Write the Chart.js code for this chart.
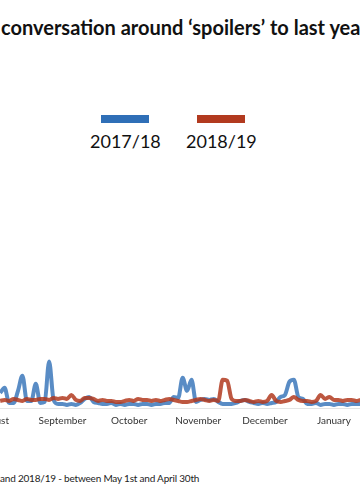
<!DOCTYPE html>
<html>
<head>
<meta charset="utf-8">
<script src="https://cdn.jsdelivr.net/npm/chart.js@4"></script>
<style>
  html, body { margin: 0; padding: 0; background: #fff; }
  body { width: 360px; height: 500px; overflow: hidden; position: relative; font-family: Lato, sans-serif; color: #111; }
  #title { position: absolute; left: 1px; top: 15px; font-size: 20px; font-weight: 700; white-space: nowrap; }
  #legend { position: absolute; left: 90px; top: 115px; display: flex; gap: 26px; }
  .item { width: 70px; text-align: center; font-size: 18px; }
  .swatch { width: 48px; height: 8px; margin: 0 auto 7px auto; }
  #wrap { position: absolute; left: -40px; top: 160px; width: 440px; height: 274px; }
  #note { position: absolute; left: 0; top: 472px; font-size: 10px; letter-spacing: -0.2px; white-space: nowrap; color: #222; }
</style>
</head>
<body>
<div id="title">conversation around ‘spoilers’ to last year</div>
<div id="legend"></div>
<div id="wrap"><canvas id="spoilers_chart"></canvas></div>
<div id="note">and 2018/19 - between May 1st and April 30th</div>
<script>
// days counted from August 1st
const days = [3, 5, 7, 9, 11, 13, 15, 17, 19, 21, 23, 25, 27, 29, 31, 33, 35, 37, 39, 41,
  43, 45, 47, 49, 51, 53, 55, 57, 59, 61, 63, 65, 67, 69, 71, 73, 75, 77, 79, 81,
  83, 85, 87, 89, 91, 93, 95, 97, 99, 101, 103, 105, 107, 109, 111, 113, 115, 117, 119, 121,
  123, 125, 127, 129, 131, 133, 135, 137, 139, 141, 143, 145, 147, 149, 151, 153, 155, 157, 159, 161,
  163, 165];

const season1718 = [15, 20, 5, 5, 17, 32, 7, 7, 24, 5, 6, 46, 8, 4, 4, 3, 4, 3, 5, 9,
  11, 6, 5, 4, 4, 5, 3, 4, 3, 4, 4, 3, 4, 4, 3, 4, 4, 5, 5, 11,
  10, 30, 17, 28, 6, 8, 9, 8, 9, 6, 4, 4, 4, 5, 7, 8, 6, 5, 4, 5,
  4, 5, 6, 11, 13, 26, 28, 11, 9, 4, 4, 5, 3, 4, 4, 3, 4, 4, 3, 4,
  4, 4];

const season1819 = [7, 8, 7, 9, 8, 7, 9, 8, 8, 9, 9, 8, 10, 9, 10, 9, 13, 8, 7, 10,
  10, 9, 7, 8, 7, 7, 6, 6, 7, 8, 7, 9, 8, 8, 7, 8, 7, 8, 9, 8,
  7, 6, 6, 7, 8, 9, 8, 7, 8, 7, 28, 27, 9, 7, 7, 8, 7, 6, 7, 6,
  7, 13, 7, 6, 7, 8, 11, 8, 7, 7, 6, 7, 13, 9, 11, 8, 8, 7, 8, 8,
  7, 8];

const monthDays = [0, 31, 61, 92, 122, 153];
const monthNames = ['August', 'September', 'October', 'November', 'December', 'January'];

const seriesNames = ['2017/18', '2018/19'];
const seriesColours = ['#2f6fb7', '#b23a1f'];
const lineColours = ['rgba(47,111,183,0.8)', 'rgba(178,58,31,0.85)'];

function build_legend() {
  const legend = document.getElementById('legend');
  seriesNames.forEach((name, i) => {
    const item = document.createElement('div');
    item.className = 'item';
    item.innerHTML = '<div class="swatch" style="background:' + seriesColours[i] + '"></div>' + name;
    legend.appendChild(item);
  });
}

function render_graph() {
  const graph = document.getElementById('spoilers_chart');
  const makeSet = (values, i, order) => ({
    label: seriesNames[i],
    data: values.map((v, j) => ({x: days[j], y: v})),
    borderColor: lineColours[i],
    borderWidth: 4,
    pointRadius: 0,
    cubicInterpolationMode: 'monotone',
    order: order
  });

  return new Chart(graph, {
    type: 'line',
    data: {
      datasets: [makeSet(season1718, 0, 1), makeSet(season1819, 1, 0)]
    },
    options: {
      responsive: true,
      maintainAspectRatio: false,
      animation: false,
      layout: { padding: { top: 6, left: 0, right: 0, bottom: 0 } },
      plugins: { legend: { display: false }, tooltip: { enabled: false } },
      scales: {
        x: {
          type: 'linear',
          min: -15.06,
          max: 182.7,
          grid: { display: false, drawTicks: false },
          border: { color: '#e4e4e4' },
          afterBuildTicks: axis => { axis.ticks = monthDays.map(d => ({ value: d })); },
          ticks: {
            autoSkip: false,
            maxRotation: 0,
            padding: 7,
            color: '#333',
            font: { family: 'Lato', size: 10 },
            callback: value => monthNames[monthDays.indexOf(value)]
          }
        },
        y: { display: false, min: 0, max: 240 }
      }
    }
  });
}

build_legend();
render_graph();
</script>
</body>
</html>
